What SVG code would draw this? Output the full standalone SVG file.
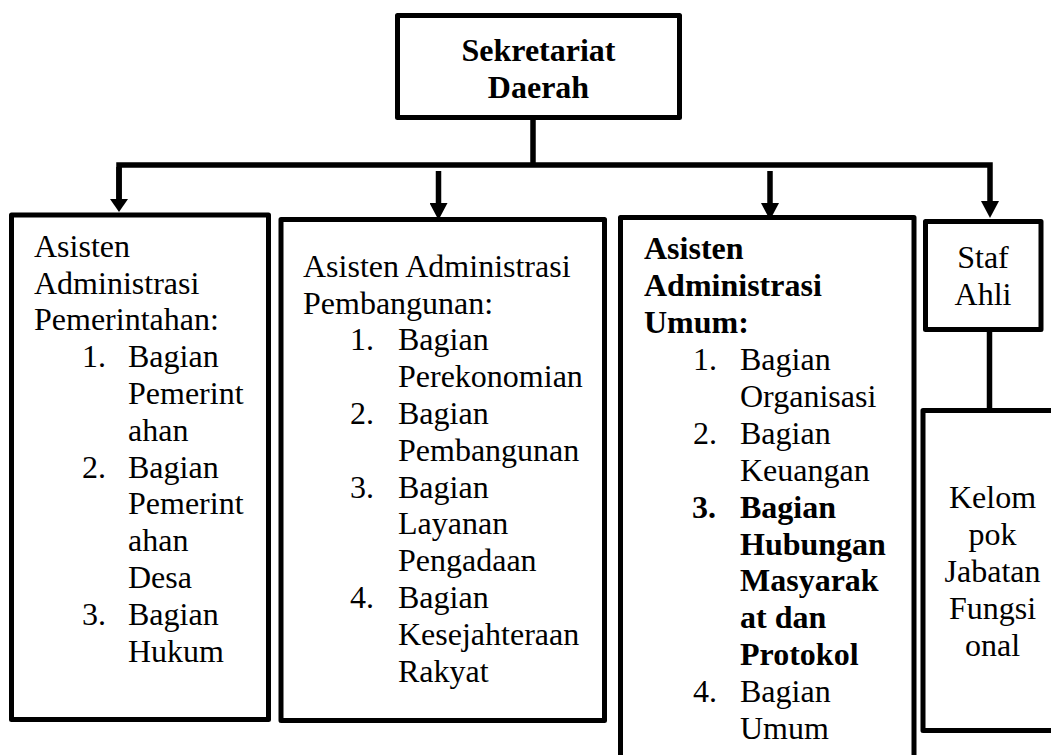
<svg xmlns="http://www.w3.org/2000/svg" width="1051" height="755" viewBox="0 0 1051 755">
<style>
.box{fill:#fff;stroke:#000;stroke-width:5;stroke-linejoin:round}
.ln{fill:none;stroke:#000;stroke-width:5.5;stroke-linecap:butt;stroke-linejoin:miter}
.t{font-family:"Liberation Serif","Times New Roman",serif;font-size:32px;fill:#000}
.b{font-weight:bold}
.c{text-anchor:middle}
</style>
<defs>
<marker id="arr" markerUnits="userSpaceOnUse" viewBox="0 0 17 18" markerWidth="17" markerHeight="18" refX="0" refY="9" orient="auto">
<path d="M0,0 L17,9 L0,18 Z" fill="#000"/>
</marker>
<marker id="arrS" markerUnits="userSpaceOnUse" viewBox="0 0 13 18" markerWidth="13" markerHeight="18" refX="0" refY="9" orient="auto">
<path d="M0,0 L13,9 L0,18 Z" fill="#000"/>
</marker>
</defs>
<rect width="1051" height="755" fill="#fff"/>
<g id="connectors">
<path class="ln" d="M533,117.5 V165"/>
<path class="ln" d="M119,199 V165 H990 V201" marker-end="url(#arr)"/>
<path class="ln" d="M119,167 V199" marker-end="url(#arrS)"/>
<path class="ln" d="M438.5,171 V203" marker-end="url(#arr)"/>
<path class="ln" d="M770,171 V203" marker-end="url(#arr)"/>
<path class="ln" d="M989.5,329.5 V410.5"/>
</g>
<g id="sekretariat-daerah">
<rect class="box" x="397.5" y="15.5" width="282" height="102"/>
<text class="t b c" x="538.5" y="60.7">Sekretariat</text>
<text class="t b c" x="538.5" y="98">Daerah</text>
</g>
<g id="asisten-pemerintahan">
<rect class="box" x="11.5" y="215" width="257" height="504.5"/>
<text class="t" x="34" y="256.7">Asisten</text>
<text class="t" x="34" y="293.5">Administrasi</text>
<text class="t" x="34" y="330.3">Pemerintahan:</text>
<text class="t" x="82" y="367.1">1.</text>
<text class="t" x="128" y="367.1">Bagian</text>
<text class="t" x="128" y="403.9">Pemerint</text>
<text class="t" x="128" y="440.7">ahan</text>
<text class="t" x="82" y="477.5">2.</text>
<text class="t" x="128" y="477.5">Bagian</text>
<text class="t" x="128" y="514.3">Pemerint</text>
<text class="t" x="128" y="551.1">ahan</text>
<text class="t" x="128" y="587.9">Desa</text>
<text class="t" x="82" y="624.7">3.</text>
<text class="t" x="128" y="624.7">Bagian</text>
<text class="t" x="128" y="661.5">Hukum</text>
</g>
<g id="asisten-pembangunan">
<rect class="box" x="281" y="219.5" width="323.5" height="501"/>
<text class="t" x="303" y="276.8">Asisten Administrasi</text>
<text class="t" x="303" y="313.6">Pembangunan:</text>
<text class="t" x="350" y="350.4">1.</text>
<text class="t" x="398" y="350.4">Bagian</text>
<text class="t" x="398" y="387.2">Perekonomian</text>
<text class="t" x="350" y="424">2.</text>
<text class="t" x="398" y="424">Bagian</text>
<text class="t" x="398" y="460.8">Pembangunan</text>
<text class="t" x="350" y="497.6">3.</text>
<text class="t" x="398" y="497.6">Bagian</text>
<text class="t" x="398" y="534.4">Layanan</text>
<text class="t" x="398" y="571.2">Pengadaan</text>
<text class="t" x="350" y="608">4.</text>
<text class="t" x="398" y="608">Bagian</text>
<text class="t" x="398" y="644.8">Kesejahteraan</text>
<text class="t" x="398" y="681.6">Rakyat</text>
</g>
<g id="asisten-umum">
<rect class="box" x="620.5" y="217.5" width="293.5" height="600"/>
<text class="t b" x="644" y="259.3">Asisten</text>
<text class="t b" x="644" y="296.2">Administrasi</text>
<text class="t b" x="644" y="333.1">Umum:</text>
<text class="t" x="693" y="370">1.</text>
<text class="t" x="740" y="370">Bagian</text>
<text class="t" x="740" y="406.9">Organisasi</text>
<text class="t" x="693" y="443.8">2.</text>
<text class="t" x="740" y="443.8">Bagian</text>
<text class="t" x="740" y="480.7">Keuangan</text>
<text class="t b" x="692" y="517.6">3.</text>
<text class="t b" x="740" y="517.6">Bagian</text>
<text class="t b" x="740" y="554.5">Hubungan</text>
<text class="t b" x="740" y="591.4">Masyarak</text>
<text class="t b" x="740" y="628.3">at dan</text>
<text class="t b" x="740" y="665.2">Protokol</text>
<text class="t" x="693" y="702.1">4.</text>
<text class="t" x="740" y="702.1">Bagian</text>
<text class="t" x="740" y="739">Umum</text>
</g>
<g id="staf-ahli">
<rect class="box" x="925.5" y="221.5" width="115.5" height="108"/>
<text class="t c" x="983" y="268.3">Staf</text>
<text class="t c" x="983" y="305">Ahli</text>
</g>
<g id="kelompok-jabatan-fungsional">
<rect class="box" x="923" y="410.5" width="140" height="320"/>
<text class="t c" x="992.5" y="508.3">Kelom</text>
<text class="t c" x="992.5" y="545.1">pok</text>
<text class="t c" x="992.5" y="582">Jabatan</text>
<text class="t c" x="992.5" y="618.8">Fungsi</text>
<text class="t c" x="992.5" y="655.6">onal</text>
</g>
</svg>
